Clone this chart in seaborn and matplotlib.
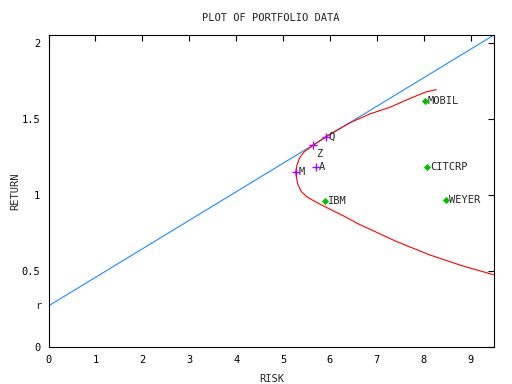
import matplotlib
matplotlib.use("Agg")
import matplotlib.pyplot as plt
import seaborn as sns
import pandas as pd

# efficient frontier (upper end -> vertex -> lower end)
frontier_risk = [8.27, 8.05, 7.70, 7.27, 6.85, 6.42, 5.91, 5.64, 5.46, 5.36, 5.30, 5.27,
                 5.29, 5.32, 5.39, 5.50, 5.68, 5.82, 6.03, 6.32, 6.60, 7.42,
                 8.13, 8.83, 9.50]
frontier_ret = [1.691, 1.676, 1.632, 1.574, 1.531, 1.472, 1.382, 1.324, 1.285, 1.245, 1.197, 1.149,
                1.110, 1.066, 1.022, 0.989, 0.956, 0.934, 0.901, 0.857, 0.810, 0.693,
                0.605, 0.533, 0.474]

# capital market line from the risk-free rate
cml_risk = [0.0, 9.5]
cml_ret = [0.27, 2.05]
r_free = 0.27

# portfolios on / near the frontier
port_names = ["M", "A", "Z", "Q"]
port_risk = [5.27, 5.71, 5.64, 5.91]
port_ret = [1.151, 1.182, 1.324, 1.382]

# single stocks
stock_names = ["MOBIL", "CITCRP", "IBM", "WEYER"]
stock_risk = [8.02, 8.08, 5.89, 8.48]
stock_ret = [1.614, 1.182, 0.961, 0.963]

sns.set_style("white")
plt.rcParams["font.family"] = ["DejaVu Sans Mono", "DejaVu Sans"]
plt.rcParams["font.size"] = 7.5

fig = plt.figure(figsize=(5.12, 3.84), dpi=100)
ax = fig.add_axes([48.5 / 512, 37 / 384, (494 - 48.5) / 512, (347 - 35) / 384])

sns.lineplot(x=cml_risk, y=cml_ret, color="#1a8cff", lw=0.8, ax=ax)
sns.lineplot(x=frontier_risk, y=frontier_ret, sort=False, estimator=None,
             color="#ff0000", lw=0.8, ax=ax)

ports = pd.DataFrame({"risk": port_risk, "ret": port_ret, "name": port_names})
stocks = pd.DataFrame({"risk": stock_risk, "ret": stock_ret, "name": stock_names})

sns.scatterplot(data=ports, x="risk", y="ret", marker="+", s=30,
                color="#b000ff", linewidth=1.0, ax=ax, zorder=5)
sns.scatterplot(data=stocks, x="risk", y="ret", marker="D", s=10,
                color="#00c000", edgecolor="#00c000", linewidth=0.5, ax=ax, zorder=5)

for _, row in ports.iterrows():
    off = (2, -6) if row["name"] == "Z" else (2, 0)
    ax.annotate(row["name"], (row["risk"], row["ret"]), xytext=off,
                textcoords="offset points", va="center", ha="left", fontsize=7.5)
for _, row in stocks.iterrows():
    ax.annotate(row["name"], (row["risk"], row["ret"]), xytext=(2, 0),
                textcoords="offset points", va="center", ha="left", fontsize=7.5)

ax.set_xlim(0, 9.5)
ax.set_ylim(0, 2.05)
ax.set_xticks(range(0, 10))
ax.set_yticks([0, 0.5, 1, 1.5, 2])
ax.set_yticklabels(["0", "0.5", "1", "1.5", "2"])
ax.tick_params(direction="in", length=4, width=0.8, top=True, right=True,
               labelsize=7.5, pad=6, colors="black")
# risk-free rate label on the y axis
ax.annotate("r", (0, r_free), xycoords=ax.get_yaxis_transform(),
            xytext=(-5, 0), textcoords="offset points",
            ha="right", va="center", fontsize=7.5)
for sp in ax.spines.values():
    sp.set_color("black")
    sp.set_linewidth(0.8)

ax.set_title("PLOT OF PORTFOLIO DATA", fontsize=7.5, pad=10)
ax.set_xlabel("RISK", fontsize=7.5, labelpad=6)
ax.set_ylabel("RETURN", fontsize=7.5, labelpad=1)

fig.savefig("out.png", dpi=100)
